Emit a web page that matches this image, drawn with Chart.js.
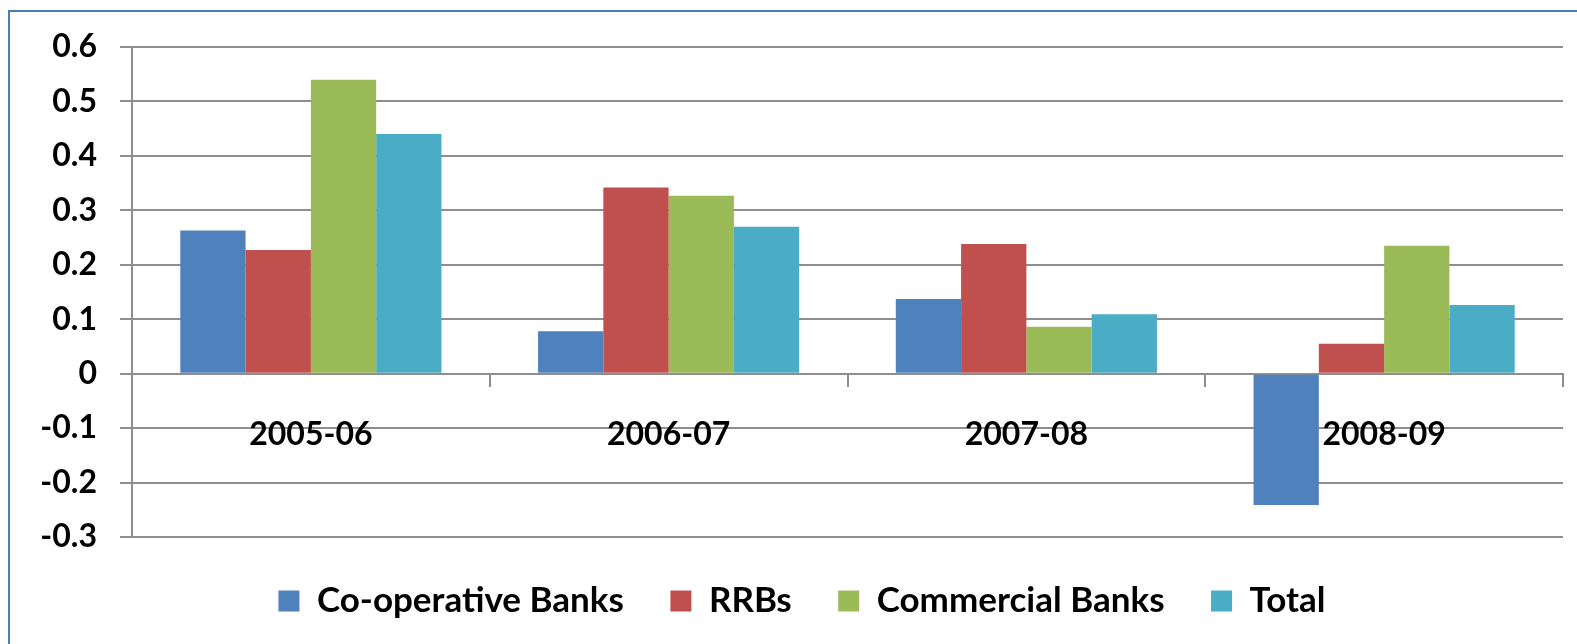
<!DOCTYPE html>
<html>
<head>
<meta charset="utf-8">
<script src="https://cdn.jsdelivr.net/npm/chart.js@4"></script>
<style>
  html, body { margin: 0; padding: 0; background: #fff; }
  #wrap { width: 1577px; height: 644px; position: relative; }
</style>
</head>
<body>
<div id="wrap"><canvas id="grafico"></canvas></div>
<script>
const years = ['2005-06', '2006-07', '2007-08', '2008-09'];
const cooperative = [0.263, 0.078, 0.137, -0.241];
const rrbs = [0.227, 0.342, 0.238, 0.055];
const commercial = [0.540, 0.327, 0.086, 0.235];
const total = [0.440, 0.270, 0.109, 0.126];

const gris = '#8e8e8e';
const fuente = 'Lato, "Open Sans", sans-serif';

// marco azul alrededor del grafico
const marco = {
    id: 'marco',
    beforeDraw(chart) {
        const c = chart.ctx;
        c.save();
        c.strokeStyle = '#4a7ebb';
        c.lineWidth = 2;
        c.strokeRect(9, 11, chart.width + 20, chart.height + 20);
        c.restore();
    }
};

function serie(label, data, color) {
    return { label, data, backgroundColor: color, borderWidth: 0 };
}

new Chart(document.getElementById('grafico'), {
    type: 'bar',
    data: {
        labels: years,
        datasets: [
            serie('Co-operative Banks', cooperative, '#4f81bd'),
            serie('RRBs', rrbs, '#c0504d'),
            serie('Commercial Banks', commercial, '#9bbb59'),
            serie('Total', total, '#4bacc6')
        ]
    },
    options: {
        responsive: true,
        maintainAspectRatio: false,
        animation: false,
        layout: { padding: { top: 47, left: 41, right: 14, bottom: 15.5 } },
        datasets: { bar: { categoryPercentage: 0.73, barPercentage: 1.0 } },
        plugins: {
            tooltip: { enabled: false },
            legend: {
                position: 'bottom',
                labels: {
                    boxWidth: 21,
                    boxHeight: 21,
                    padding: 46.5,
                    color: '#000',
                    font: { family: fuente, size: 35, weight: 'bold' }
                }
            }
        },
        scales: {
            x: {
                position: { y: 0 },
                grid: { display: true, drawOnChartArea: false, tickLength: 12, color: gris, lineWidth: 2 },
                border: { display: true, color: gris, width: 2 },
                ticks: { color: '#000', padding: 30, font: { family: fuente, size: 32, weight: 'bold' } }
            },
            y: {
                min: -0.3,
                max: 0.6,
                afterFit(scale) { scale.width = 91; },
                grid: { color: gris, lineWidth: 2, tickLength: 12 },
                border: { display: true, color: gris, width: 2 },
                ticks: { stepSize: 0.1, color: '#000', padding: 23, font: { family: fuente, size: 32, weight: 'bold' } }
            }
        }
    },
    plugins: [marco]
});
</script>
</body>
</html>
